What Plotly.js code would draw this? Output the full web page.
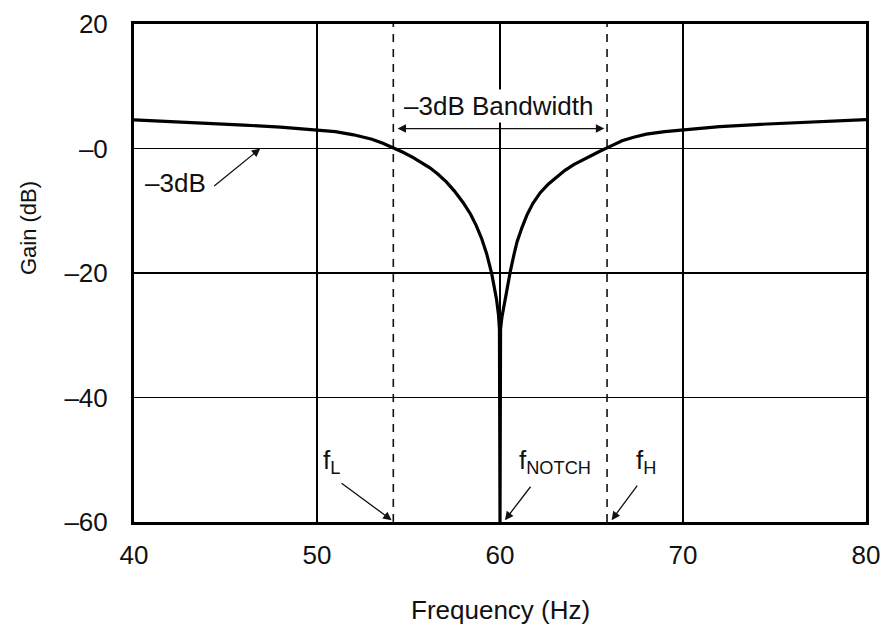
<!DOCTYPE html>
<html>
<head>
<meta charset="utf-8">
<script src="https://cdn.plot.ly/plotly-3.0.1.min.js"></script>
<style>html,body{margin:0;padding:0;background:#fff;}#chart{width:889px;height:628px;}</style>
</head>
<body>
<div id="chart"></div>
<script>
// Frequency response
var freqHz = [40, 42, 44, 46, 48, 50, 51, 52, 53, 53.6, 54.2, 54.7, 55.26, 55.7, 56.17, 56.6, 57.08, 57.5, 57.99, 58.4, 58.72, 59.0, 59.27, 59.54, 59.7, 59.81, 59.92, 59.97, 60,
              60.03, 60.1, 60.2, 60.29, 60.4, 60.56, 60.75, 60.93, 61.2, 61.47, 61.8, 62.2, 62.65, 63.11, 63.55, 64.03, 64.5, 64.93, 65.4, 65.85, 66.67, 67.3, 68, 69, 70, 72, 74, 76, 78, 80];
var gainDb = [4.6, 4.35, 4.07, 3.77, 3.42, 3.0, 2.7, 2.2, 1.5, 0.85, 0.1, -0.6, -1.45, -2.2, -3.1, -4.1, -5.4, -6.8, -8.7, -10.6, -12.5, -14.5, -16.9, -20, -22.3, -24.2, -26.8, -29, -60,
              -29, -27.2, -25.5, -24.2, -22.2, -19.8, -17.2, -15.0, -12.7, -10.7, -8.8, -7.1, -5.7, -4.5, -3.5, -2.6, -1.85, -1.2, -0.52, 0.1, 1.25, 1.8, 2.3, 2.7, 3.0, 3.5, 3.85, 4.15, 4.42, 4.65];

// Markers
var fLow = 54.17;
var fHigh = 65.85;
var fNotch = 60;
var gainRange = [-60, 20];

// Axes ticks
var xTickVals = [40, 50, 60, 70, 80];
var xTickText = ['40', '50', '60', '70', '80'];
var yTickVals = [-60, -40, -20, 0, 20];
var yTickText = ['\u201360', '\u201340', '\u201320', '\u20130', '20'];

var FONT = 'Liberation Sans, Arial, sans-serif';
var FS = 26;
var TXT = '#111';

var traces = [
  {x: [fLow, fLow], y: gainRange, mode: 'lines', line: {color: '#111', width: 1.6, dash: '8px,7px'}, hoverinfo: 'skip'},
  {x: [fHigh, fHigh], y: gainRange, mode: 'lines', line: {color: '#111', width: 1.6, dash: '8px,7px'}, hoverinfo: 'skip'},
  {x: freqHz, y: gainDb, mode: 'lines', line: {color: '#000', width: 3.2}, hoverinfo: 'skip'}
];

var arrowStyle = {showarrow: true, arrowhead: 2, arrowsize: 1.3, arrowwidth: 1.3, arrowcolor: '#111', axref: 'x', ayref: 'y', text: '', standoff: 0, startstandoff: 0};
function arrow(o){ var a = {}; for (var k in arrowStyle) a[k] = arrowStyle[k]; for (var k2 in o) a[k2] = o[k2]; return a; }

var annotations = [
  arrow({x: fHigh - 0.15, y: 3.2, ax: fLow + 0.15, ay: 3.2, arrowside: 'end+start'}),
  {x: 59.9, y: 6.9, xref: 'x', yref: 'y', text: '\u20133dB Bandwidth', showarrow: false, font: {family: FONT, size: FS, color: TXT}, bgcolor: '#fff'},
  arrow({x: 46.9, y: 0, ax: 44.3, ay: -6.2}),
  {x: 42.25, y: -5.5, xref: 'x', yref: 'y', text: '\u20133dB', showarrow: false, font: {family: FONT, size: FS, color: TXT}},
  arrow({x: 54.08, y: -59.7, ax: 51.26, ay: -53.6}),
  {x: 50.8, y: -50.3, xref: 'x', yref: 'y', text: 'f<sub>L</sub>', showarrow: false, font: {family: FONT, size: FS, color: TXT}},
  arrow({x: 60.27, y: -59.7, ax: 61.73, ay: -54.1}),
  {x: 63.0, y: -50.3, xref: 'x', yref: 'y', text: 'f<sub>NOTCH</sub>', showarrow: false, font: {family: FONT, size: FS, color: TXT}},
  arrow({x: 66.1, y: -59.7, ax: 67.56, ay: -53.9}),
  {x: 68.0, y: -50.3, xref: 'x', yref: 'y', text: 'f<sub>H</sub>', showarrow: false, font: {family: FONT, size: FS, color: TXT}},
  {x: -0.145, y: 0.59, xref: 'paper', yref: 'paper', xanchor: 'center', yanchor: 'middle', text: 'Gain (dB)', textangle: -90, showarrow: false, font: {family: FONT, size: 22, color: TXT}},
  {x: 0.5, y: -0.177, xref: 'paper', yref: 'paper', xanchor: 'center', yanchor: 'middle', text: 'Frequency (Hz)', showarrow: false, font: {family: FONT, size: FS, color: TXT}}
];

var layout = {
  width: 889, height: 628,
  margin: {l: 134, r: 23, t: 24, b: 106},
  paper_bgcolor: '#fff', plot_bgcolor: '#fff',
  showlegend: false,
  font: {family: FONT, size: FS, color: TXT},
  xaxis: {range: [40, 80], tickvals: xTickVals, ticktext: xTickText, showgrid: true, gridcolor: '#000', gridwidth: 1.2,
          zeroline: false, showline: true, linecolor: '#000', linewidth: 3, mirror: true, ticks: '', ticklabelstandoff: 8,
          tickfont: {family: FONT, size: FS, color: TXT}},
  yaxis: {range: gainRange, tickvals: yTickVals, ticktext: yTickText, showgrid: true, gridcolor: '#000', gridwidth: 1.2,
          zeroline: false, showline: true, linecolor: '#000', linewidth: 3, mirror: true, ticks: '', ticklabelstandoff: 18,
          tickfont: {family: FONT, size: FS, color: TXT}},
  annotations: annotations
};

Plotly.newPlot('chart', traces, layout, {staticPlot: true, displayModeBar: false});
</script>
</body>
</html>
